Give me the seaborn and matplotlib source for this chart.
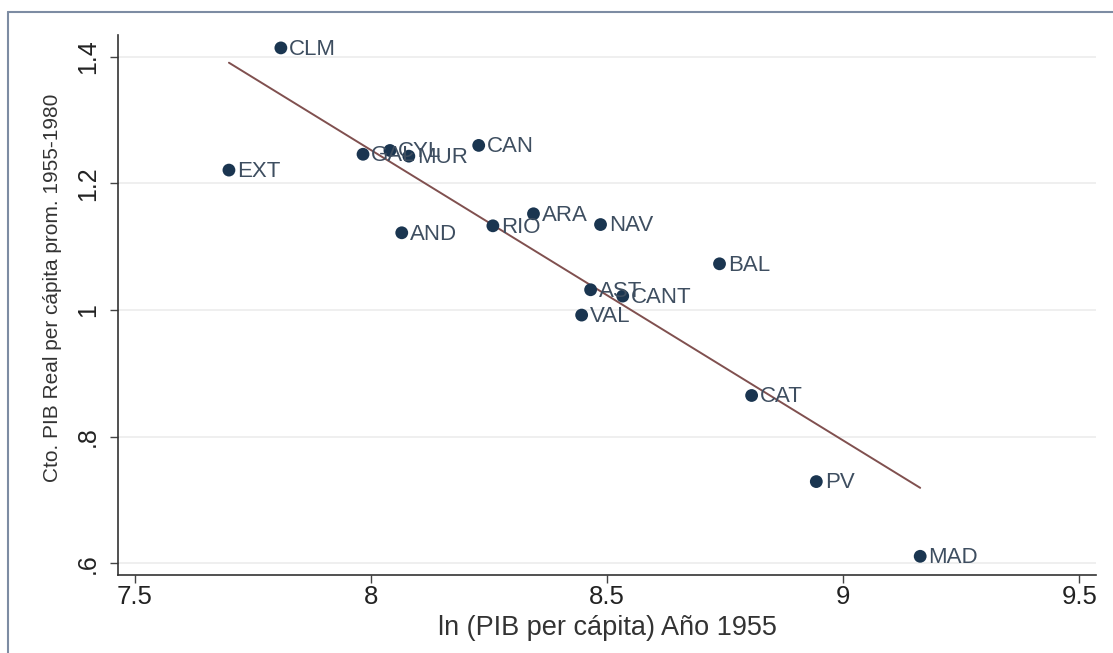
import pandas as pd
import matplotlib
matplotlib.use("Agg")
import matplotlib.pyplot as plt
import seaborn as sns

# Spanish regions: log GDP per capita 1955 vs average real growth 1955-1980
regions = ["CLM", "EXT", "GAL", "CYL", "MUR", "CAN", "AND", "RIO", "ARA",
           "NAV", "BAL", "AST", "CANT", "VAL", "CAT", "PV", "MAD"]
ln_pib_1955 = [7.809, 7.699, 7.983, 8.040, 8.080, 8.228, 8.065, 8.258, 8.344,
               8.486, 8.738, 8.465, 8.533, 8.446, 8.806, 8.943, 9.163]
growth = [1.414, 1.221, 1.246, 1.252, 1.243, 1.260, 1.122, 1.133, 1.152,
          1.135, 1.073, 1.032, 1.022, 0.992, 0.865, 0.729, 0.611]

xticks = [7.5, 8, 8.5, 9, 9.5]
xtick_labels = ["7.5", "8", "8.5", "9", "9.5"]
yticks = [0.6, 0.8, 1.0, 1.2, 1.4]
ytick_labels = [".6", ".8", "1", "1.2", "1.4"]

df = pd.DataFrame({"region": regions, "x": ln_pib_1955, "y": growth})

sns.set_theme(style="white")
plt.rcParams["font.family"] = ["Liberation Sans", "DejaVu Sans"]

fig = plt.figure(figsize=(11.13, 6.53), dpi=100)
ax = fig.add_axes([0.106, 0.119, 0.879, 0.828])

# fitted line (OLS) and points
sns.regplot(data=df, x="x", y="y", ax=ax, scatter=False, ci=None,
            line_kws={"color": "#80504f", "lw": 1.4})
sns.scatterplot(data=df, x="x", y="y", ax=ax, color="#1a3550", s=85,
                edgecolor="none", zorder=3)

for _, r in df.iterrows():
    ax.annotate(r["region"], (r["x"], r["y"]), xytext=(6, -1),
                textcoords="offset points", va="center", ha="left",
                fontsize=16, color="#3e4e60")

ax.set_xlim(7.464, 9.536)
ax.set_ylim(0.581, 1.435)
ax.set_xticks(xticks)
ax.set_xticklabels(xtick_labels, fontsize=18.5, color="#222222")
ax.set_yticks(yticks)
ax.set_yticklabels(ytick_labels, fontsize=18, color="#222222",
                   rotation=90, va="center")
ax.tick_params(axis="both", direction="out", length=6, width=1,
               color="#444444", bottom=True, left=True)
ax.tick_params(axis="x", pad=1)
ax.tick_params(axis="y", pad=7)
ax.yaxis.grid(True, color="#ececec", lw=1.2)
ax.set_axisbelow(True)

for side in ["top", "right"]:
    ax.spines[side].set_visible(False)
for side in ["left", "bottom"]:
    ax.spines[side].set_color("#333333")
    ax.spines[side].set_linewidth(1.2)

ax.set_xlabel("ln (PIB per cápita) Año 1955", fontsize=19.5, color="#333333",
              labelpad=4)
ax.set_ylabel("Cto. PIB Real per cápita prom. 1955-1980", fontsize=15,
              color="#333333")
ax.yaxis.set_label_coords(-0.057, 0.531)

# outer frame lines (left and top)
fig.add_artist(plt.Line2D([0.0072, 0.0072], [0.0, 0.982], color="#7d8ca3",
                          lw=1.5, transform=fig.transFigure))
fig.add_artist(plt.Line2D([0.0072, 1.0], [0.982, 0.982], color="#7d8ca3",
                          lw=1.5, transform=fig.transFigure))

fig.savefig("out.png", dpi=100)
